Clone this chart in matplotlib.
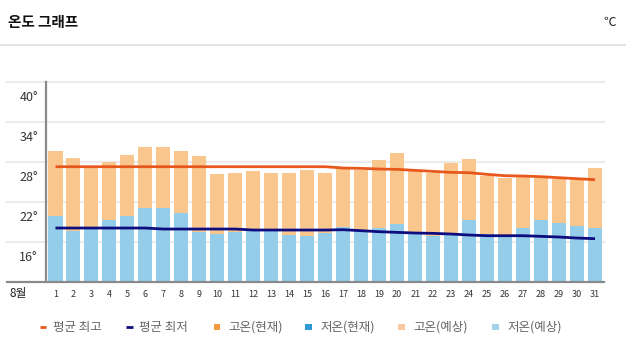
import matplotlib
matplotlib.use("Agg")
import matplotlib.pyplot as plt
import matplotlib.transforms as mtransforms
from matplotlib.patches import Rectangle
from matplotlib.lines import Line2D

plt.rcParams['font.family'] = ['Noto Sans CJK KR', 'DejaVu Sans']

# ---- data ----
days = list(range(1, 32))
high = [29.6, 28.6, 27.0, 28.0, 29.0, 30.2, 30.2, 29.6, 28.9, 26.2, 26.3, 26.6, 26.3, 26.3, 26.8, 26.3,
        26.9, 26.8, 28.3, 29.3, 26.6, 26.3, 27.8, 28.4, 25.8, 25.6, 25.8, 25.6, 25.4, 25.2, 27.1]
low = [19.9, 17.6, 18.0, 19.3, 19.9, 21.0, 21.0, 20.3, 17.5, 17.2, 17.5, 17.7, 17.7, 17.0, 16.9, 17.3,
       18.2, 17.8, 18.1, 18.6, 17.3, 16.8, 17.1, 19.3, 17.1, 17.0, 18.1, 19.2, 18.8, 18.3, 18.1]
avg_high = [27.25] * 16 + [27.05, 27.0, 26.9, 26.85, 26.7, 26.55, 26.4, 26.35, 26.1, 25.9, 25.85,
                           25.75, 25.6, 25.45, 25.3]
avg_low = [18.05] * 6 + [17.9] * 5 + [17.75] * 5 + [17.8, 17.65, 17.5, 17.4, 17.3, 17.25, 17.15, 17.0,
                                                   16.9, 16.9, 16.9, 16.8, 16.7, 16.55, 16.45]
y_ticks = [16, 22, 28, 34, 40]
month_label = "8월"
legend_labels = ["평균 최고", "평균 최저", "고온(현재)", "저온(현재)", "고온(예상)", "저온(예상)"]

# ---- styles ----
W, H = 626, 354
C_HIGH_LINE = "#e8581c"
C_LOW_LINE = "#0d0d80"
C_HIGH_BAR = "#f9c78e"
C_LOW_BAR = "#94cdea"
C_HIGH_NOW = "#f79a3e"
C_LOW_NOW = "#2f9ad8"
C_HIGH_FC = "#fac8a0"
C_LOW_FC = "#a2d2ea"
C_GRID = "#ebebeb"
C_AXIS = "#8a8a8a"

fig = plt.figure(figsize=(W / 100, H / 100), dpi=100)


def fx(x):
    return x / W


def fy(y):
    return 1 - y / H


ax_left, ax_right, ax_top, ax_bottom = 46.5, 604, 81.7, 281.7
ax = fig.add_axes([fx(ax_left), fy(ax_bottom), (ax_right - ax_left) / W, (ax_bottom - ax_top) / H])
ax.set_xlim(0.5, 31.5)
ax.set_ylim(10, 40)

# gridlines extending left of the axis
ext = (7 - ax_left) / (ax_right - ax_left)
for v in y_ticks:
    ax.axhline(v, xmin=ext, xmax=1.0, color=C_GRID, lw=1.6, zorder=0, clip_on=False)
ax.axhline(10, xmin=ext, xmax=1.0, color=C_AXIS, lw=1.6, zorder=5, clip_on=False)

ax.bar(days, high, width=0.78, color=C_HIGH_BAR, zorder=2)
ax.bar(days, low, width=0.78, color=C_LOW_BAR, zorder=3)
ax.plot(days, avg_high, color=C_HIGH_LINE, lw=2, zorder=4, solid_capstyle='butt')
ax.plot(days, avg_low, color=C_LOW_LINE, lw=2, zorder=4, solid_capstyle='butt')

for s in ["top", "right", "bottom"]:
    ax.spines[s].set_visible(False)
ax.spines["left"].set_color(C_AXIS)
ax.spines["left"].set_linewidth(1.6)
ax.spines["left"].set_zorder(6)

ax.set_yticks([])
ax.set_xticks(days)
ax.set_xticklabels([str(d) for d in days], fontsize=6.5, color="#333333")
ax.tick_params(axis="x", length=0, pad=6)

# y labels drawn offset below their gridlines
blend = mtransforms.blended_transform_factory(ax.transAxes, ax.transData)
offset = mtransforms.ScaledTranslation(0, -15.5 / 100, fig.dpi_scale_trans)
for v in y_ticks:
    ax.text((38 - ax_left) / (ax_right - ax_left), v, f"{v}°", transform=blend + offset,
            ha="right", va="center", fontsize=9, color="#333333")

fig.text(fx(10), fy(294), month_label, ha="left", va="center", fontsize=8.5, color="#222222")

# header
fig.text(fx(8), fy(22), "온도 그래프", ha="left", va="center", fontsize=10.5, fontweight="bold",
         color="#111111")
fig.text(fx(610), fy(22), "℃", ha="center", va="center", fontsize=9, color="#222222")
fig.add_artist(Line2D([0, 1], [fy(45), fy(45)], transform=fig.transFigure, color="#dddddd", lw=1.2))

# legend
ly = 327
dash_x = [39.5, 126]
for i, (x0, c) in enumerate(zip(dash_x, [C_HIGH_LINE, C_LOW_LINE])):
    fig.add_artist(Line2D([fx(x0), fx(x0 + 7)], [fy(ly), fy(ly)], transform=fig.transFigure,
                          color=c, lw=2, solid_capstyle='butt'))
    fig.text(fx(x0 + 13), fy(ly), legend_labels[i], ha="left", va="center", fontsize=9,
             color="#666666")
sq_x = [213.5, 305, 398, 492]
sq_c = [C_HIGH_NOW, C_LOW_NOW, C_HIGH_FC, C_LOW_FC]
for i, (x0, c) in enumerate(zip(sq_x, sq_c)):
    fig.add_artist(Rectangle((fx(x0), fy(ly + 3.3)), 6.6 / W, 6.6 / H, transform=fig.transFigure,
                             color=c, lw=0))
    fig.text(fx(x0 + 15), fy(ly), legend_labels[i + 2], ha="left", va="center", fontsize=9,
             color="#666666")

fig.savefig("out.png", dpi=100)
